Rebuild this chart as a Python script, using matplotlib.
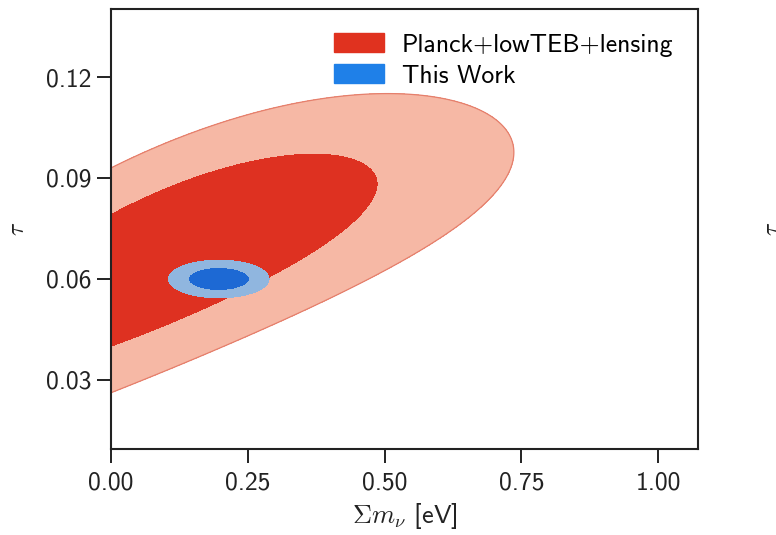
import numpy as np
import matplotlib
matplotlib.use("Agg")
import matplotlib.pyplot as plt
from matplotlib.patches import Patch

# ---------------- data ----------------
# Planck+lowTEB+lensing posterior: Gaussian around a curved tau ridge
planck_mnu_center = 0.10
planck_mnu_sigma = 0.256
planck_tau_ridge = [0.0596, 0.0725, -0.0283]   # tau = c0 + c1*m + c2*m^2
planck_tau_sigma = 0.0136
# This Work posterior
work_mnu_center = 0.197
work_mnu_sigma = 0.037
work_tau_center = 0.060
work_tau_sigma = 0.00225
# delta chi^2 for 68% / 95% contours
contour_dchi2 = [2.30, 6.18]

series_labels = ["Planck+lowTEB+lensing", "This Work"]
xticks = [0.00, 0.25, 0.50, 0.75, 1.00]
yticks = [0.03, 0.06, 0.09, 0.12]
xlim = (0.0, 1.073)
ylim = (0.0095, 0.1402)

planck_colors = ["#DE3121", "#F6B8A5"]
planck_edge = "#E57F6C"
work_colors = ["#1D69D4", "#90B6DF"]
legend_colors = ["#E0321F", "#1F80E8"]

# ---------------- style ----------------
plt.rcParams["font.family"] = ["cmss10", "DejaVu Sans"]
plt.rcParams["mathtext.fontset"] = "cm"
plt.rcParams["axes.unicode_minus"] = False
plt.rcParams["axes.formatter.use_mathtext"] = False

fig = plt.figure(figsize=(7.76, 5.35), dpi=100)
ax = fig.add_axes([111 / 776, 1 - 449 / 535, (698 - 111) / 776, (449 - 9) / 535])

m = np.linspace(xlim[0], xlim[1], 900)
t = np.linspace(ylim[0], ylim[1], 900)
M, T = np.meshgrid(m, t)

ridge = planck_tau_ridge[0] + planck_tau_ridge[1] * M + planck_tau_ridge[2] * M ** 2
chi2_planck = ((M - planck_mnu_center) / planck_mnu_sigma) ** 2 + ((T - ridge) / planck_tau_sigma) ** 2
chi2_work = ((M - work_mnu_center) / work_mnu_sigma) ** 2 + ((T - work_tau_center) / work_tau_sigma) ** 2

lev = [0.0] + contour_dchi2
ax.contourf(M, T, chi2_planck, levels=lev, colors=planck_colors)
ax.contour(M, T, chi2_planck, levels=[contour_dchi2[1]], colors=[planck_edge], linewidths=0.9)
ax.contourf(M, T, chi2_work, levels=lev, colors=work_colors)

ax.set_xlim(*xlim)
ax.set_ylim(*ylim)
ax.set_xticks(xticks)
ax.set_yticks(yticks)
ax.set_xticklabels([f"{v:.2f}" for v in xticks])
ax.set_yticklabels([f"{v:.2f}" for v in yticks])
ax.tick_params(direction="out", length=10, width=1.4, labelsize=18.5, pad=6, colors="#222222")
ax.tick_params(axis="y", pad=4)
for s in ax.spines.values():
    s.set_linewidth(1.5)
    s.set_color("#222222")

ax.set_xlabel(r"$\Sigma m_\nu$ [eV]", fontsize=19, labelpad=5, color="#222222")
ax.set_ylabel(r"$\tau$", fontsize=17, color="#222222")
ax.yaxis.set_label_coords(-0.139, 0.5)

handles = [Patch(facecolor=c, edgecolor=c) for c in legend_colors]
ax.legend(handles, series_labels, loc="upper right", frameon=False, fontsize=18.5,
          handlelength=1.95, handleheight=0.75, handletextpad=0.7, labelspacing=0.3,
          borderaxespad=0.55, borderpad=0.4)

# ylabel of the neighbouring (cropped) panel
fig.text(762 / 776, 1 - 229 / 535, r"$\tau$", fontsize=17, rotation=90,
         ha="left", va="center", color="#222222")

fig.savefig("out.png", dpi=100)
